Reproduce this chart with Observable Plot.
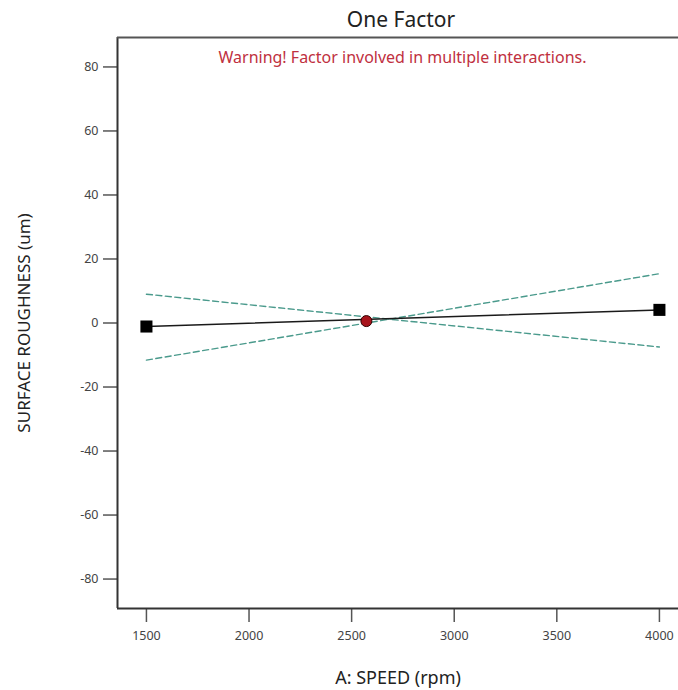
<!DOCTYPE html>
<html>
<head>
<meta charset="utf-8">
<script src="https://cdn.jsdelivr.net/npm/d3@7"></script>
<script src="https://cdn.jsdelivr.net/npm/@observablehq/plot@0.6"></script>
<style>
  html, body { margin: 0; padding: 0; background: #fff; }
  #chart { width: 678px; height: 690px; }
</style>
</head>
<body>
<div id="chart"></div>
<script>
// Data
const speed = [1500, 4000];
const roughness = [-1.1, 4.1];
const ciUpperLeft = [9.0, -7.5];   // dashed line starting high on the left
const ciLowerLeft = [-11.6, 15.4]; // dashed line starting low on the left
const centerSpeed = [2572];
const centerRough = [0.6];
const xTicks = [1500, 2000, 2500, 3000, 3500, 4000];
const yTicks = [-80, -60, -40, -20, 0, 20, 40, 60, 80];
const xDomain = [1359, 4093];
const yDomain = [-89.2, 89.2];
const titleText = "One Factor";
const warningText = "Warning! Factor involved in multiple interactions.";

const mainLine = speed.map((s, i) => ({x: s, y: roughness[i]}));
const dashA = speed.map((s, i) => ({x: s, y: ciUpperLeft[i]}));
const dashB = speed.map((s, i) => ({x: s, y: ciLowerLeft[i]}));
const center = centerSpeed.map((s, i) => ({x: s, y: centerRough[i]}));

const font = "'Noto Sans', 'Open Sans', sans-serif";
const fmt = d => String(d);

const chart = Plot.plot({
  width: 678,
  height: 690,
  marginTop: 37,
  marginLeft: 117,
  marginRight: 0,
  marginBottom: 82,
  style: {fontFamily: font, background: "#fff", overflow: "visible"},
  x: {domain: xDomain, ticks: xTicks},
  y: {domain: yDomain, ticks: yTicks},
  marks: [
    Plot.axisX(xTicks, {
      tickSize: 14, tickPadding: 9, fontSize: 12.5, stroke: "#555", strokeWidth: 1.5, fill: "#444",
      tickFormat: fmt,
      label: "A: SPEED (rpm)", labelAnchor: "center", labelOffset: 75, labelArrow: "none"
    }),
    Plot.axisY(yTicks, {
      tickSize: 14, tickPadding: 5, fontSize: 12.5, stroke: "#555", strokeWidth: 1.5, fill: "#444",
      tickFormat: fmt,
      label: "SURFACE ROUGHNESS (um)", labelAnchor: "center", labelOffset: 100, labelArrow: "none"
    }),
    Plot.ruleX([xDomain[0]], {stroke: "#333", strokeWidth: 2}),
    Plot.ruleY([yDomain[0]], {stroke: "#333", strokeWidth: 2}),
    Plot.ruleY([yDomain[1]], {stroke: "#555", strokeWidth: 2}),
    Plot.line(dashA, {x: "x", y: "y", stroke: "#4a9a8c", strokeWidth: 1.4, strokeDasharray: "6,3.5"}),
    Plot.line(dashB, {x: "x", y: "y", stroke: "#4a9a8c", strokeWidth: 1.4, strokeDasharray: "6,3.5"}),
    Plot.line(mainLine, {x: "x", y: "y", stroke: "#1a1a1a", strokeWidth: 1.5}),
    Plot.dot(mainLine, {x: "x", y: "y", symbol: "square", r: 6.8, fill: "#000", stroke: "none"}),
    Plot.dot(center, {x: "x", y: "y", r: 5.5, fill: "#a8141c", stroke: "#300", strokeWidth: 1}),
    Plot.text([titleText], {frameAnchor: "top", lineAnchor: "middle", dy: -17, dx: 3, fontSize: 21, fill: "#222", fontFamily: font}),
    Plot.text([warningText], {frameAnchor: "top", lineAnchor: "middle", dy: 20, dx: 4.5, fontSize: 16, fill: "#c03040", fontFamily: font})
  ]
});
chart.querySelectorAll("[aria-label='x-axis label'] text").forEach(t => {
  t.setAttribute("font-size", "18");
  t.style.fontSize = "18px";
  t.setAttribute("fill", "#222");
});
chart.querySelectorAll("[aria-label='y-axis label'] text").forEach(t => {
  t.setAttribute("font-size", "17");
  t.style.fontSize = "17px";
  t.setAttribute("fill", "#222");
});
document.getElementById("chart").appendChild(chart);
</script>
</body>
</html>
